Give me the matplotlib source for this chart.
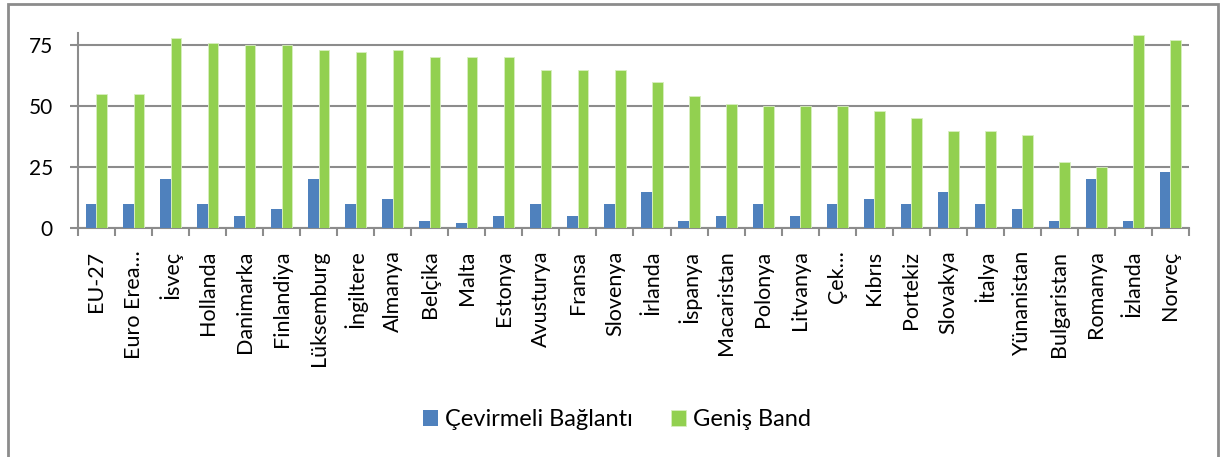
import numpy as np
import matplotlib
matplotlib.use('Agg')
import matplotlib.pyplot as plt
from matplotlib.patches import Rectangle

plt.rcParams['font.family'] = ['Lato', 'DejaVu Sans']

# data
countries = ['EU-27', 'Euro Erea…', 'İsveç', 'Hollanda', 'Danimarka', 'Finlandiya',
             'Lüksemburg', 'İngiltere', 'Almanya', 'Belçika', 'Malta', 'Estonya',
             'Avusturya', 'Fransa', 'Slovenya', 'İrlanda', 'İspanya', 'Macaristan',
             'Polonya', 'Litvanya', 'Çek…', 'Kıbrıs', 'Portekiz', 'Slovakya',
             'İtalya', 'Yünanistan', 'Bulgaristan', 'Romanya', 'İzlanda', 'Norveç']
dialup = [10, 10, 20, 10, 5, 8, 20, 10, 12, 3, 2, 5, 10, 5, 10, 15, 3, 5,
          10, 5, 10, 12, 10, 15, 10, 8, 3, 20, 3, 23]
broadband = [55, 55, 78, 76, 75, 75, 73, 72, 73, 70, 70, 70, 65, 65, 65, 60, 54, 51,
             50, 50, 50, 48, 45, 40, 40, 38, 27, 25, 79, 77]
series_names = ['Çevirmeli Bağlantı', 'Geniş Band']
yticks = [0, 25, 50, 75]

blue = '#4F81BD'
green = '#92D050'

fig = plt.figure(figsize=(12.22, 4.57), dpi=100)
ax = fig.add_axes([0.0638, 0.5004, 0.9092, 0.4276])

x = np.arange(len(countries))
w = 0.285
ax.bar(x - w/2, dialup, w, color=blue, label=series_names[0], zorder=3)
ax.bar(x + w/2, broadband, w, color=green, edgecolor='#d8efc0', linewidth=0.6,
       label=series_names[1], zorder=3)

ax.set_xlim(-0.5, len(countries) - 0.5)
ax.set_ylim(0, 80)
ax.set_yticks(yticks)
ax.yaxis.grid(True, color='#8c8c8c', linewidth=1.5, zorder=0)
ax.tick_params(axis='y', length=6, width=1.5, color='#8c8c8c', labelsize=15, pad=12)

# category boundary ticks on the x axis, labels at centres
ax.set_xticks(np.arange(len(countries) + 1) - 0.5)
ax.set_xticklabels([])
ax.set_xticks(x, minor=True)
ax.set_xticklabels(countries, minor=True, rotation=90, fontsize=15.5)
ax.tick_params(axis='x', which='major', length=6, width=1.5, color='#8c8c8c')
ax.tick_params(axis='x', which='minor', length=0, pad=16)

for s in ['top', 'right']:
    ax.spines[s].set_visible(False)
for s in ['left', 'bottom']:
    ax.spines[s].set_color('#8c8c8c')
    ax.spines[s].set_linewidth(1.5)

fig.legend(loc='center', bbox_to_anchor=(0.505, 0.082), ncol=2, frameon=False,
           fontsize=17, handlelength=0.65, handleheight=0.65, columnspacing=1.6,
           handletextpad=0.3)

# outer chart frame
fig.patches.append(Rectangle((8/1222, -0.05), 1210/1222, (457 - 4)/457 + 0.05,
                             transform=fig.transFigure, fill=False,
                             edgecolor='#8c8c8c', linewidth=2))

fig.savefig('out.png', dpi=100)
